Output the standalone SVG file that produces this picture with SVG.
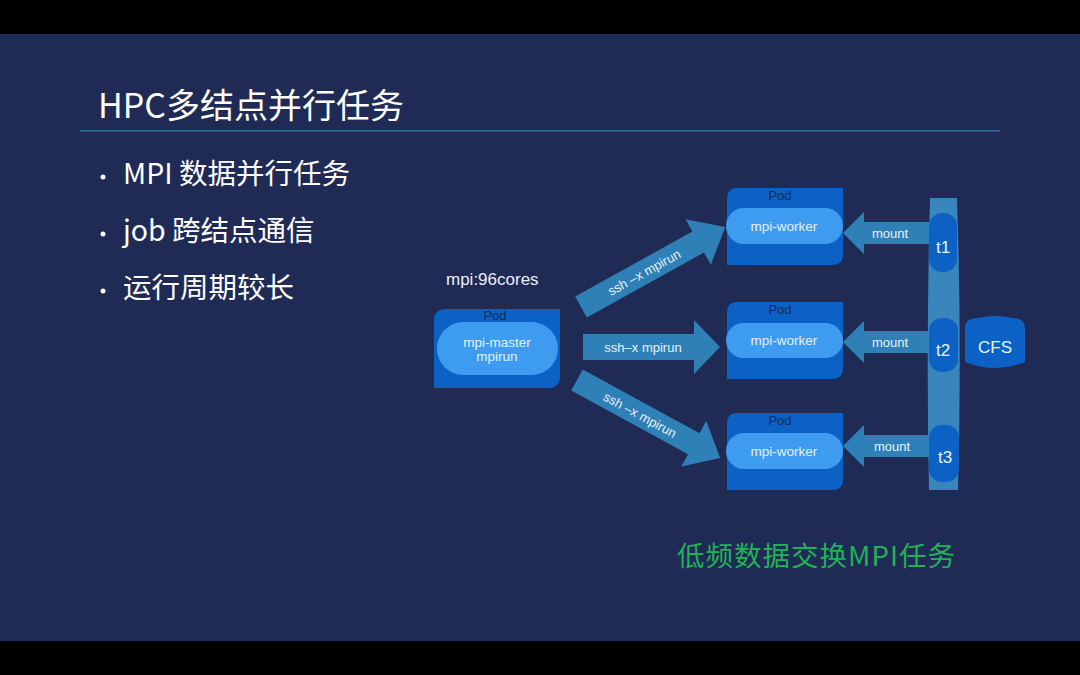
<svg xmlns="http://www.w3.org/2000/svg" width="1080" height="675" viewBox="0 0 1080 675">
<defs>
<style>
.cjk{font-family:"Noto Sans CJK SC","Noto Sans",sans-serif}
.lat{font-family:"Liberation Sans","Noto Sans",sans-serif}
.pod{fill:#0b62c4}
.pill{fill:#3d9cf0}
.podlbl{font-family:"Liberation Sans",sans-serif;font-size:13px;fill:#0d2a5a;text-anchor:middle}
.pilltxt{font-family:"Liberation Sans",sans-serif;font-size:13.5px;fill:#e4f0fc;text-anchor:middle}
.arrow{fill:#2f80b6}
.atxt{font-family:"Liberation Sans",sans-serif;font-size:13px;fill:#e8f2fb;text-anchor:middle}
.tpill{fill:#0b62c4}
.ttxt{font-family:"Liberation Sans",sans-serif;font-size:17px;fill:#e8f2fb;text-anchor:middle}
</style>
</defs>
<rect x="0" y="0" width="1080" height="675" fill="#000"/>
<rect x="0" y="34" width="1080" height="607" fill="#1f2a55"/>

<g id="title">
<text x="98" y="118" class="cjk" font-size="34" fill="#ffffff">HPC多结点并行任务</text>
<rect x="80" y="130" width="920" height="1.5" fill="#2d6aa0"/>
</g>

<g id="bullets" class="cjk" fill="#ffffff" font-size="28.5">
<circle cx="103" cy="177" r="2.5"/>
<text x="123" y="184">MPI 数据并行任务</text>
<circle cx="103" cy="234" r="2.5"/>
<text x="123" y="241">job 跨结点通信</text>
<circle cx="103" cy="291" r="2.5"/>
<text x="123" y="298">运行周期较长</text>
</g>

<g id="cores-label">
<text x="446" y="285" class="lat" font-size="17" fill="#e8eef8">mpi:96cores</text>
</g>

<g id="connectors">
<g transform="translate(581,307) rotate(-29)">
<path class="arrow" d="M0,-12 L134,-12 L134,-26 L165,0 L134,26 L134,12 L0,12 Z"/>
<text class="atxt" x="72" y="5">ssh –x mpirun</text>
</g>
<g transform="translate(583,347)">
<path class="arrow" d="M0,-13 L111,-13 L111,-27 L137,0 L111,27 L111,13 L0,13 Z"/>
<text class="atxt" x="60" y="5">ssh–x mpirun</text>
</g>
<g transform="translate(577,380) rotate(28.6)">
<path class="arrow" d="M0,-12 L133,-12 L133,-26 L163,0 L133,26 L133,12 L0,12 Z"/>
<text class="atxt" x="72" y="5">ssh –x mpirun</text>
</g>
<g transform="translate(930,233) rotate(180)">
<path class="arrow" d="M0,-11 L66,-11 L66,-21 L87,0 L66,21 L66,11 L0,11 Z"/>
</g>
<text class="atxt" x="890" y="238">mount</text>
<g transform="translate(930,342) rotate(180)">
<path class="arrow" d="M0,-11 L66,-11 L66,-21 L87,0 L66,21 L66,11 L0,11 Z"/>
</g>
<text class="atxt" x="890" y="347">mount</text>
<g transform="translate(930,446) rotate(180)">
<path class="arrow" d="M0,-11 L66,-11 L66,-21 L87,0 L66,21 L66,11 L0,11 Z"/>
</g>
<text class="atxt" x="892" y="451">mount</text>
</g>

<g id="master">
<path class="pod" d="M446,309 L560,309 L560,376 Q560,388 548,388 L434,388 L434,321 Q434,309 446,309 Z"/>
<text class="podlbl" x="495" y="320">Pod</text>
<rect class="pill" x="437" y="322" width="121" height="53" rx="26.5"/>
<text class="pilltxt" x="497" y="347">mpi-master</text>
<text class="pilltxt" x="497" y="361">mpirun</text>
</g>

<g id="worker1">
<path class="pod" d="M737,188 L843,188 L843,254 Q843,265 832,265 L727,265 L727,199 Q727,188 737,188 Z"/>
<text class="podlbl" x="780" y="200">Pod</text>
<rect class="pill" x="726" y="208" width="117" height="36" rx="18"/>
<text class="pilltxt" x="784" y="231">mpi-worker</text>
</g>

<g id="worker2">
<path class="pod" d="M737,302 L843,302 L843,368 Q843,379 832,379 L727,379 L727,313 Q727,302 737,302 Z"/>
<text class="podlbl" x="780" y="314">Pod</text>
<rect class="pill" x="726" y="323" width="117" height="35" rx="17.5"/>
<text class="pilltxt" x="784" y="345">mpi-worker</text>
</g>

<g id="worker3">
<path class="pod" d="M737,413 L843,413 L843,479 Q843,490 832,490 L727,490 L727,424 Q727,413 737,413 Z"/>
<text class="podlbl" x="780" y="425">Pod</text>
<rect class="pill" x="726" y="433" width="117" height="36" rx="18"/>
<text class="pilltxt" x="784" y="456">mpi-worker</text>
</g>

<g id="cfs-bus">
<path fill="#3886bb" d="M930,198 L957,198 Q962,344 958,490 L929,490 Q926,344 930,198 Z"/>
</g>

<g id="t1">
<rect class="tpill" x="929" y="213" width="28" height="59" rx="13"/>
<text class="ttxt" x="943" y="253">t1</text>
</g>
<g id="t2">
<rect class="tpill" x="929" y="318" width="29" height="54" rx="13"/>
<text class="ttxt" x="943" y="356">t2</text>
</g>
<g id="t3">
<rect class="tpill" x="929" y="425" width="30" height="57" rx="13"/>
<text class="ttxt" x="945" y="463">t3</text>
</g>

<g id="cfs">
<path fill="#0b62c4" d="M965,328 Q965,318 978,318 Q995,314 1012,318 Q1025,318 1025,328 L1025,362 Q995,374 965,362 Z"/>
<text class="ttxt" x="995" y="353">CFS</text>
</g>

<g id="caption">
<text x="677" y="566" class="cjk" font-size="27.5" fill="#1fb257" textLength="278" lengthAdjust="spacing">低频数据交换MPI任务</text>
</g>
</svg>
